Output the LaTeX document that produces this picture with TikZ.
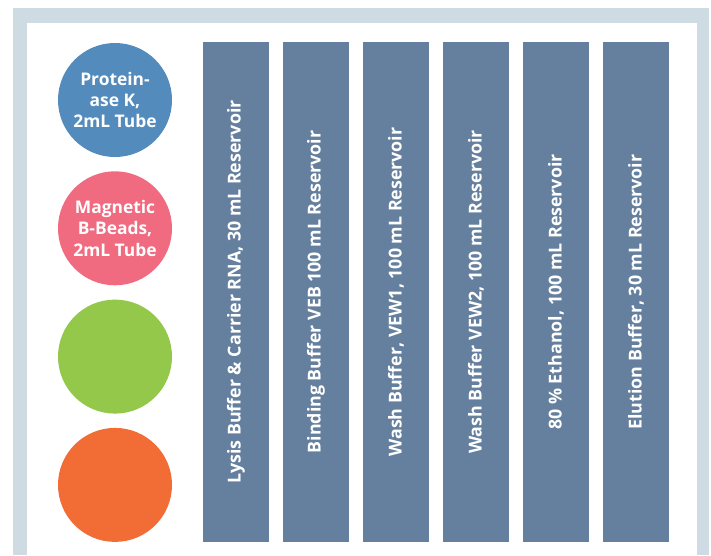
\documentclass[tikz,border=0pt]{standalone}
\usepackage{fontspec}
\setmainfont{Open Sans}
\usetikzlibrary{positioning,calc}

\definecolor{framegray}{HTML}{CFDBE3}
\definecolor{barblue}{HTML}{65809E}
\definecolor{protblue}{HTML}{548BBD}
\definecolor{beadpink}{HTML}{F06A80}
\definecolor{limegreen}{HTML}{93C84B}
\definecolor{darkorange}{HTML}{F26C36}

\begin{document}
\begin{tikzpicture}[x=1pt,y=-1pt]
  \useasboundingbox (0,0) rectangle (711,555);
  \fill[framegray] (13,8) rectangle (709,555);
  \fill[white] (27,23) rectangle (697,555);
  \begin{scope}[
    every node/.style={
      circle,
      align=center,
      anchor=center,
      inner sep=0pt,
      outer sep=0pt,
      minimum size=114pt,
      text=white,
      font=\fontsize{17.4}{21.2}\selectfont\bfseries,
    },
    ]
    \node[fill=protblue]                     (protk)  at (115,100) {Protein-\\ase K,\\2mL Tube};
    \node[fill=beadpink,below=14.3pt of protk]  (beads)  {Magnetic\\B-Beads,\\2mL Tube};
    \node[fill=limegreen,below=14.3pt of beads] (green)  {};
    \node[fill=darkorange,below=14.3pt of green] (orange) {};
  \end{scope}
  \begin{scope}[
    every node/.style={
      rectangle,
      fill=barblue,
      rotate=90,
      anchor=center,
      inner sep=0pt,
      outer sep=0pt,
      minimum width=500pt,
      minimum height=66pt,
      text=white,
      font=\fontsize{17.8}{20}\selectfont\bfseries,
    },
    ]
    \node (lysis)   at (236,292)             {Lysis Buffer \& Carrier RNA, 30 mL Reservoir};
    \node (binding) at ($(lysis)+(80,0)$)    {Binding Buffer VEB 100 mL Reservoir};
    \node (wash1)   at ($(binding)+(80,0)$)  {Wash Buffer, VEW1, 100 mL Reservoir};
    \node (wash2)   at ($(wash1)+(80,0)$)    {Wash Buffer VEW2, 100 mL Reservoir};
    \node (ethanol) at ($(wash2)+(80,0)$)    {80 \% Ethanol, 100 mL Reservoir};
    \node (elution) at ($(ethanol)+(80,0)$)  {Elution Buffer, 30 mL Reservoir};
  \end{scope}
\end{tikzpicture}
\end{document}
